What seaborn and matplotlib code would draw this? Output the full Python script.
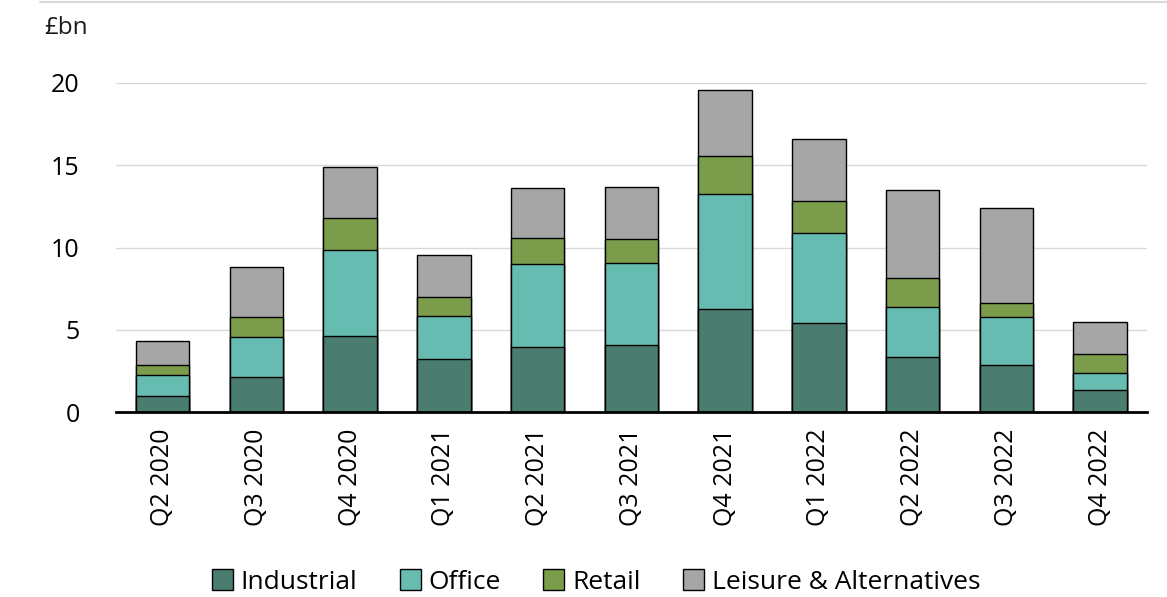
import matplotlib
matplotlib.use("Agg")
import matplotlib.pyplot as plt
import seaborn as sns
import numpy as np
import pandas as pd
from matplotlib.patches import Patch
from matplotlib.lines import Line2D

categories = ["Q2 2020", "Q3 2020", "Q4 2020", "Q1 2021", "Q2 2021", "Q3 2021",
              "Q4 2021", "Q1 2022", "Q2 2022", "Q3 2022", "Q4 2022"]
industrial = [0.97, 2.13, 4.62, 3.22, 3.95, 4.07, 6.26, 5.41, 3.34, 2.86, 1.34]
office = [1.28, 2.43, 5.23, 2.62, 5.05, 4.99, 6.99, 5.47, 3.04, 2.92, 1.03]
retail = [0.61, 1.22, 1.94, 1.15, 1.58, 1.46, 2.31, 1.95, 1.77, 0.85, 1.16]
leisure = [1.46, 3.03, 3.10, 2.55, 3.04, 3.16, 4.01, 3.77, 5.35, 5.77, 1.94]
series_names = ["Industrial", "Office", "Retail", "Leisure & Alternatives"]
colors = ["#4a7c6f", "#66bcb0", "#7a9c4b", "#a6a6a6"]

sns.set_theme(style="white")
plt.rcParams["font.family"] = ["Open Sans", "DejaVu Sans"]
plt.rcParams["text.color"] = "black"

W, H = 1167, 597
fig = plt.figure(figsize=(W / 100, H / 100), dpi=100)
ax = fig.add_axes([115.8 / W, 1 - 412 / H, (1147 - 115.8) / W, (412 - 83) / H])

series = [industrial, office, retail, leisure]
cum = np.cumsum(np.array(series), axis=0)
# draw from top (total) down so lower segments overlay
for i in range(3, -1, -1):
    df = pd.DataFrame({"cat": categories, "val": cum[i]})
    sns.barplot(data=df, x="cat", y="val", color=colors[i], saturation=1,
                width=0.57, edgecolor="black", linewidth=1, ax=ax, zorder=3)

ax.set_xlim(-0.5, 10.5)
ax.set_ylim(0, 20)
ax.set_yticks([0, 5, 10, 15, 20])
ax.yaxis.grid(True, color="#d9d9d9", linewidth=1, zorder=0)
ax.set_axisbelow(True)
for s in ["top", "right", "left"]:
    ax.spines[s].set_visible(False)
ax.spines["bottom"].set_color("black")
ax.spines["bottom"].set_linewidth(2)
ax.spines["bottom"].set_zorder(5)
ax.set_xlabel("")
ax.set_ylabel("")
ax.tick_params(axis="y", length=0, pad=26, labelsize=18, labelcolor="black")
ax.tick_params(axis="x", length=0, pad=12, labelsize=18, labelcolor="black")
for lab in ax.get_xticklabels():
    lab.set_rotation(90)

fig.text(44 / W, 1 - 28 / H, "£bn", fontsize=17.5, va="center", ha="left", color="#1a1a1a")
fig.add_artist(Line2D([40 / W, 1], [1 - 1.5 / H, 1 - 1.5 / H], color="#d9d9d9", linewidth=1.5))

handles = [Patch(facecolor=c, edgecolor="black", linewidth=1) for c in colors]
fig.legend(handles, series_names, loc="center", bbox_to_anchor=(596 / W, 1 - 582 / H),
           ncol=4, frameon=False, fontsize=19, handlelength=0.8, handleheight=0.8,
           handletextpad=0.3, columnspacing=1.6, labelcolor="black")

fig.savefig("out.png", dpi=100)
